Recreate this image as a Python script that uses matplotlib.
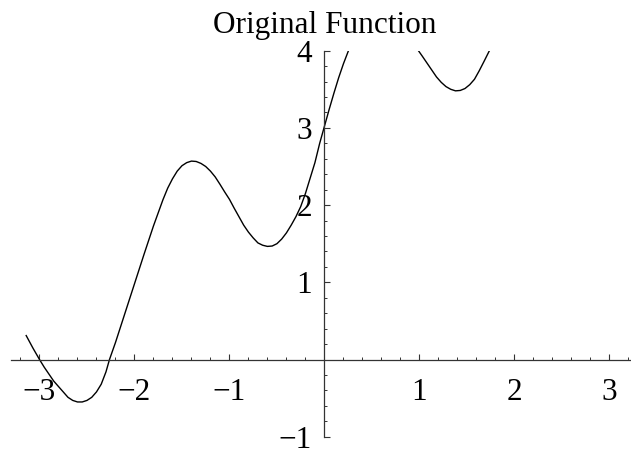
import matplotlib
matplotlib.use("Agg")
import matplotlib.pyplot as plt
import numpy as np

# curve sampled off the graph, left piece (runs up to the top edge y=4)
x_left = [-3.14, -3.07, -3.00, -2.95, -2.90, -2.85, -2.80, -2.75, -2.70, -2.65, -2.60,
          -2.55, -2.50, -2.45, -2.40, -2.35, -2.30, -2.263, -2.20, -2.10, -2.00, -1.90,
          -1.80, -1.75, -1.70, -1.65, -1.60, -1.55, -1.50, -1.45, -1.40, -1.35, -1.30,
          -1.25, -1.20, -1.15, -1.10, -1.05, -1.00, -0.95, -0.90, -0.85, -0.80, -0.75,
          -0.70, -0.65, -0.60, -0.55, -0.50, -0.45, -0.40, -0.35, -0.30, -0.25, -0.20,
          -0.15, -0.10, -0.05, 0.00, 0.05, 0.10, 0.15, 0.20, 0.253]
y_left = [0.31, 0.15, 0.00, -0.10, -0.19, -0.28, -0.35, -0.42, -0.49, -0.53, -0.55,
          -0.55, -0.53, -0.49, -0.42, -0.32, -0.16, 0.00, 0.22, 0.60, 0.98, 1.36,
          1.73, 1.90, 2.07, 2.22, 2.34, 2.44, 2.51, 2.55, 2.57, 2.565, 2.54,
          2.50, 2.44, 2.365, 2.27, 2.17, 2.075, 1.96, 1.85, 1.74, 1.65, 1.575,
          1.51, 1.48, 1.465, 1.47, 1.50, 1.56, 1.64, 1.74, 1.85, 1.98, 2.15,
          2.35, 2.55, 2.80, 3.02, 3.24, 3.45, 3.65, 3.83, 4.0]

# right piece, comes back below y=4
x_right = [0.99, 1.03, 1.08, 1.13, 1.18, 1.23, 1.28, 1.33, 1.38, 1.43, 1.48, 1.53,
           1.58, 1.63, 1.68, 1.737]
y_right = [4.0, 3.93, 3.84, 3.75, 3.66, 3.59, 3.535, 3.50, 3.48, 3.485, 3.51, 3.56,
           3.63, 3.74, 3.86, 4.0]

x_labels = [-3, -2, -1, 1, 2, 3]
y_labels = [-1, 1, 2, 3, 4]

plt.rcParams['font.family'] = ['Liberation Serif', 'DejaVu Serif']

fig = plt.figure(figsize=(6.31, 4.49), dpi=100)
ax = fig.add_axes([11/631, (449-436.7)/449, 620/631, (436.7-50.7)/449])
ax.set_xlim(-3.3, 3.228)
ax.set_ylim(-1, 4)

ax.plot(x_left, y_left, color='black', lw=1.0)
ax.plot(x_right, y_right, color='black', lw=1.0)

# axes through the origin
ax.spines['left'].set_position(('data', 0))
ax.spines['bottom'].set_position(('data', 0))
ax.spines['top'].set_visible(False)
ax.spines['right'].set_visible(False)
for s in ('left', 'bottom'):
    ax.spines[s].set_color('#333333')
    ax.spines[s].set_linewidth(0.9)

ax.set_xticks(x_labels)
ax.set_yticks(y_labels)
ax.set_xticks(np.arange(-3.2, 3.21, 0.2), minor=True)
ax.set_yticks(np.arange(-1.0, 4.01, 0.2), minor=True)
ax.tick_params(which='major', direction='in', length=4, width=0.8, color='#333333', labelsize=22.5)
ax.tick_params(which='minor', direction='in', length=2.5, width=0.7, color='#333333')
ax.tick_params(axis='x', which='major', pad=13)
ax.tick_params(axis='y', which='major', pad=9)

fig.text(325/631, 1 - 33.5/449, "Original Function", ha='center', va='baseline', fontsize=22.5)

fig.savefig("out.png", dpi=100)
